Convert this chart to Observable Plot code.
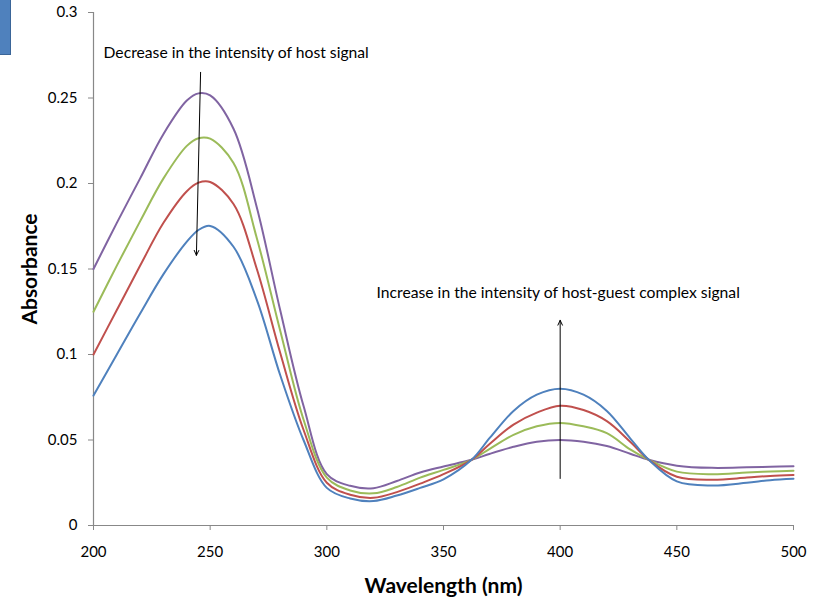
<!DOCTYPE html>
<html>
<head>
<meta charset="utf-8">
<script src="https://cdn.jsdelivr.net/npm/d3@7"></script>
<script src="https://cdn.jsdelivr.net/npm/@observablehq/plot@0.6"></script>
<style>
  body { margin: 0; background: #fff; }
  #wrap { position: relative; width: 817px; height: 600px; }
  #deco { position: absolute; left: 0; top: 0; width: 10px; height: 54px; background: #4f81bd; border: 1px solid #3a6598; border-left: none; border-top: none; }
  svg g[aria-label="y-axis label"] text, svg g[aria-label="x-axis label"] text { font-weight: bold; font-size: 21px; fill: #000; }
</style>
</head>
<body>
<div id="wrap"><div id="deco"></div></div>
<script>
const wavelengths = [200,210,220,230,240,245,250,260,270,280,290,300,310,320,330,340,350,362,370,380,390,400,410,420,430,438,450,465,480,490,500];
const purple = [.150,.177,.203,.229,.2485,.2527,.2515,.232,.186,.126,.070,.030,.0232,.0218,.026,.031,.0345,.0384,.042,.046,.049,.050,.049,.0465,.042,.0384,.0350,.0337,.0340,.0344,.0347];
const green  = [.125,.152,.178,.203,.222,.2265,.2262,.212,.168,.114,.062,.028,.0205,.0188,.0225,.028,.0325,.0384,.045,.053,.058,.060,.058,.054,.0445,.0384,.0315,.0300,.0310,.0316,.0320];
const red    = [.100,.126,.152,.177,.1955,.2005,.2009,.188,.150,.101,.056,.025,.018,.0162,.0195,.0245,.030,.0384,.048,.059,.066,.070,.0675,.0610,.049,.0384,.0285,.0267,.0280,.0290,.0296];
const blue   = [.076,.100,.124,.147,.166,.1728,.1752,.163,.132,.088,.050,.022,.0158,.0143,.0175,.022,.027,.0384,.0515,.067,.0765,.080,.0765,.067,.051,.0384,.0258,.0234,.025,.0265,.0273];
const seriesNames = ["Series 1","Series 2","Series 3","Series 4"];
const seriesColors = ["#8064a2","#9bbb59","#c0504d","#4f81bd"];
const xTicks = [200,250,300,350,400,450,500];
const yTicks = [0,0.05,0.1,0.15,0.2,0.25,0.3];
const annotations = [
  {x: 204.3, y: 0.2766, text: "Decrease in the intensity of host signal"},
  {x: 321.3, y: 0.1357, text: "Increase in the intensity of host-guest complex signal"}
];
const arrows = [
  {x1: 245.9, y1: 0.265, x2: 244.1, y2: 0.158},
  {x1: 400, y1: 0.0275, x2: 400, y2: 0.12}
];

const allSeries = [purple, green, red, blue];
const rows = [];
allSeries.forEach((vals, i) => vals.forEach((v, j) => rows.push({s: seriesNames[i], x: wavelengths[j], y: v})));

const chart = Plot.plot({
  width: 817, height: 600,
  marginLeft: 93, marginRight: 24, marginTop: 12, marginBottom: 75,
  style: {fontFamily: "Lato, sans-serif", fontSize: "15px", color: "#000", background: "#fff"},
  x: {domain: [200, 500]},
  y: {domain: [0, 0.3]},
  color: {domain: seriesNames, range: seriesColors},
  marks: [
    Plot.ruleX([200], {stroke: "#888", strokeWidth: 1.2}),
    Plot.ruleY([0], {stroke: "#888", strokeWidth: 1.2}),
    Plot.axisY({ticks: yTicks, tickSize: 5, tickPadding: 11, stroke: "#888", tickFormat: d => String(+d.toFixed(2)),
      label: "Absorbance", labelAnchor: "center", labelArrow: "none", labelOffset: 71}),
    Plot.axisX({ticks: xTicks, tickSize: 5, tickPadding: 16, stroke: "#888", tickFormat: d => String(d),
      label: "Wavelength (nm)", labelAnchor: "center", labelArrow: "none", labelOffset: 67}),
    Plot.line(rows, {x: "x", y: "y", z: "s", stroke: "s", strokeWidth: 2, curve: "catmull-rom"}),
    Plot.arrow(arrows, {x1: "x1", y1: "y1", x2: "x2", y2: "y2", stroke: "#000", strokeWidth: 1, headLength: 8, headAngle: 50}),
    Plot.text(annotations, {x: "x", y: "y", text: "text", textAnchor: "start", fill: "#000", fontSize: 15.7})
  ]
});
document.getElementById("wrap").appendChild(chart);
</script>
</body>
</html>
